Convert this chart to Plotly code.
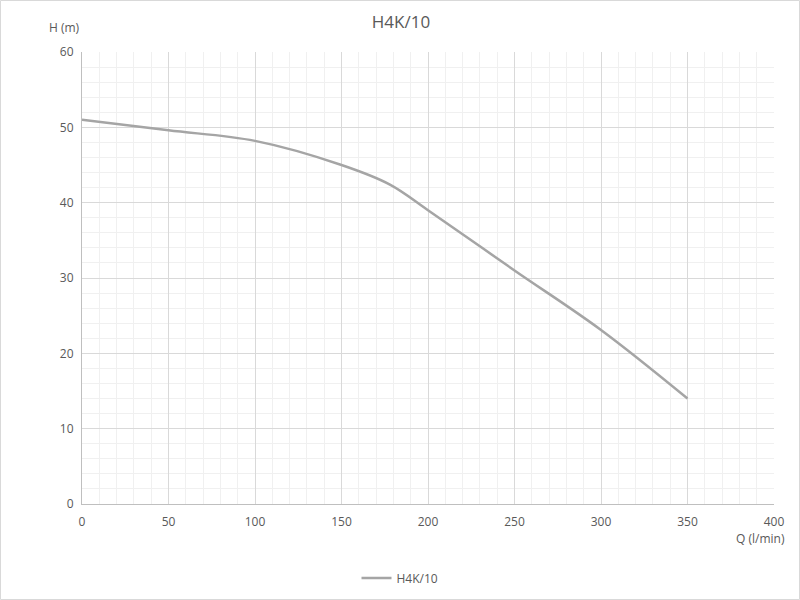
import plotly.graph_objects as go

q_values = [0, 50, 100, 150, 178, 200, 250, 300, 350]
h_values = [51.0, 49.6, 48.2, 45.0, 42.4, 39.0, 31.0, 23.1, 14.0]
series_name = "H4K/10"
x_ticks = [0, 50, 100, 150, 200, 250, 300, 350, 400]
y_ticks = [0, 10, 20, 30, 40, 50, 60]

W, H = 800, 600
L, R, T, B = 82, 774, 52, 504

fig = go.Figure()
fig.add_trace(go.Scatter(
    x=q_values, y=h_values, mode="lines", name=series_name,
    line=dict(color="#a5a5a5", width=2.5, shape="spline", smoothing=1.0),
))

font_color = "#595959"
fig.update_layout(
    width=W, height=H,
    margin=dict(l=L, r=W - R, t=T, b=H - B, autoexpand=False),
    paper_bgcolor="white", plot_bgcolor="white",
    font=dict(family="Open Sans, Liberation Sans, sans-serif", color=font_color, size=12),
    title=dict(text=series_name, x=(401) / W, xanchor="center", y=1 - 22 / H, yanchor="middle",
               font=dict(size=17, color=font_color)),
    showlegend=True,
    legend=dict(orientation="h", x=0.5 + (400 - (L + R) / 2) / (R - L), xanchor="center",
                y=-(578 - B) / (B - T), yanchor="middle", font=dict(size=12, color=font_color)),
    xaxis=dict(range=[0, 400], tickvals=x_ticks, showgrid=True, gridcolor="#d9d9d9", gridwidth=1,
               minor=dict(dtick=10, showgrid=True, gridcolor="#f0f0f0", gridwidth=1),
               showline=True, linecolor="#bfbfbf", linewidth=1, zeroline=False,
               ticks="outside", ticklen=7, tickcolor="rgba(0,0,0,0)",
               tickfont=dict(size=12, color=font_color)),
    yaxis=dict(range=[0, 60], tickvals=y_ticks, showgrid=True, gridcolor="#d9d9d9", gridwidth=1,
               minor=dict(dtick=2, showgrid=True, gridcolor="#f0f0f0", gridwidth=1),
               showline=True, linecolor="#bfbfbf", linewidth=1, zeroline=False,
               ticks="outside", ticklen=5, tickcolor="rgba(0,0,0,0)",
               tickfont=dict(size=12, color=font_color)),
)

pw, ph = R - L, B - T
def px(x):
    return (x - L) / pw
def py(y):
    return (B - y) / ph

fig.add_annotation(text="H (m)", xref="paper", yref="paper", x=px(47), y=py(28),
                   xanchor="left", yanchor="middle", showarrow=False,
                   font=dict(size=12, color=font_color))
fig.add_annotation(text="Q (l/min)", xref="paper", yref="paper", x=px(787), y=py(538),
                   xanchor="right", yanchor="middle", showarrow=False,
                   font=dict(size=12, color=font_color))
fig.add_shape(type="rect", xref="paper", yref="paper",
              x0=px(0.5), x1=px(799.5), y0=py(599.5), y1=py(0.5),
              line=dict(color="#d9d9d9", width=1), layer="below")

fig.write_html("out.html", config={"displayModeBar": False},
               post_script="document.body.style.margin='0';document.body.style.overflow='hidden';")
